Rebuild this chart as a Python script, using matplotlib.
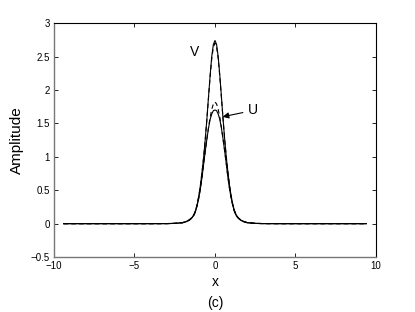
import matplotlib
matplotlib.use('Agg')
import matplotlib.pyplot as plt

plt.rcParams['font.family'] = ['Liberation Sans', 'DejaVu Sans']

# sample positions
x = [-9.4, -6, -4, -3, -2.5, -2.0, -1.8, -1.6, -1.5, -1.4, -1.3, -1.2, -1.1, -1.0,
     -0.9, -0.8, -0.7, -0.6, -0.5, -0.4, -0.3, -0.2, -0.1, 0,
     0.1, 0.2, 0.3, 0.4, 0.5, 0.6, 0.7, 0.8, 0.9, 1.0, 1.1, 1.2, 1.3, 1.4,
     1.5, 1.6, 1.8, 2.0, 2.5, 3, 4, 6, 9.4]

v_solid = [0, 0, 0, 0.001, 0.004, 0.015, 0.03, 0.055, 0.075, 0.10, 0.14, 0.20, 0.29, 0.42,
           0.58, 0.78, 1.00, 1.27, 1.57, 1.90, 2.22, 2.50, 2.68, 2.74,
           2.68, 2.50, 2.22, 1.90, 1.57, 1.27, 1.00, 0.78, 0.58, 0.42, 0.29, 0.20, 0.14, 0.10,
           0.075, 0.055, 0.03, 0.015, 0.004, 0.001, 0, 0, 0]

v_dash = [0, 0, 0, 0.001, 0.004, 0.016, 0.031, 0.056, 0.077, 0.10, 0.14, 0.20, 0.29, 0.42,
          0.58, 0.78, 1.00, 1.27, 1.57, 1.89, 2.20, 2.47, 2.64, 2.70,
          2.64, 2.47, 2.20, 1.89, 1.57, 1.27, 1.00, 0.78, 0.58, 0.42, 0.29, 0.20, 0.14, 0.10,
          0.077, 0.056, 0.031, 0.016, 0.004, 0.001, 0, 0, 0]

u_solid = [0, 0, 0, 0.001, 0.004, 0.014, 0.028, 0.05, 0.07, 0.095, 0.13, 0.19, 0.28, 0.39,
           0.53, 0.70, 0.90, 1.09, 1.27, 1.43, 1.56, 1.64, 1.69, 1.70,
           1.69, 1.64, 1.56, 1.43, 1.27, 1.09, 0.90, 0.70, 0.53, 0.39, 0.28, 0.19, 0.13, 0.095,
           0.07, 0.05, 0.028, 0.014, 0.004, 0.001, 0, 0, 0]

u_dash = [0, 0, 0, 0.001, 0.005, 0.016, 0.03, 0.053, 0.072, 0.097, 0.13, 0.19, 0.28, 0.39,
          0.53, 0.70, 0.90, 1.09, 1.27, 1.44, 1.59, 1.71, 1.79, 1.82,
          1.79, 1.71, 1.59, 1.44, 1.27, 1.09, 0.90, 0.70, 0.53, 0.39, 0.28, 0.19, 0.13, 0.097,
          0.072, 0.053, 0.03, 0.016, 0.005, 0.001, 0, 0, 0]

xticks = [-10, -5, 0, 5, 10]
yticks = [-0.5, 0, 0.5, 1, 1.5, 2, 2.5, 3]

fig = plt.figure(figsize=(4.15, 3.12), dpi=100)
ax = fig.add_axes([0.130, 0.176, 0.776, 0.750])

ax.plot(x, v_solid, color='k', lw=0.8)
ax.plot(x, v_dash, color='k', lw=0.8, ls=(0, (4, 3)))
ax.plot(x, u_solid, color='k', lw=0.8)
ax.plot(x, u_dash, color='k', lw=0.8, ls=(0, (4, 3)))

ax.text(-1.24, 2.57, 'V', fontsize=10, ha='center', va='center')
ax.text(2.35, 1.70, 'U', fontsize=10, ha='center', va='center')
ax.annotate('', xy=(0.3, 1.59), xytext=(1.9, 1.67),
            arrowprops=dict(arrowstyle='-|>', color='k', lw=0.8, mutation_scale=9))

ax.set_xlim(-10, 10)
ax.set_ylim(-0.5, 3)
ax.set_xticks(xticks)
ax.set_yticks(yticks)
ax.set_xticklabels(['\u221210', '\u22125', '0', '5', '10'])
ax.set_yticklabels(['\u22120.5', '0', '0.5', '1', '1.5', '2', '2.5', '3'])
ax.tick_params(direction='in', length=3, width=0.6, labelsize=7, top=True, right=True, pad=3)

for side in ['left', 'bottom']:
    ax.spines[side].set_color('#777777')
    ax.spines[side].set_linewidth(1.0)
for side in ['top', 'right']:
    ax.spines[side].set_color('k')
    ax.spines[side].set_linewidth(0.8)

ax.set_xlabel('x', fontsize=10, labelpad=3)
ax.set_ylabel('Amplitude', fontsize=11, labelpad=5)
fig.text(0.518, 0.029, '(c)', fontsize=10, ha='center', va='center')

fig.savefig('out.png', dpi=100)
